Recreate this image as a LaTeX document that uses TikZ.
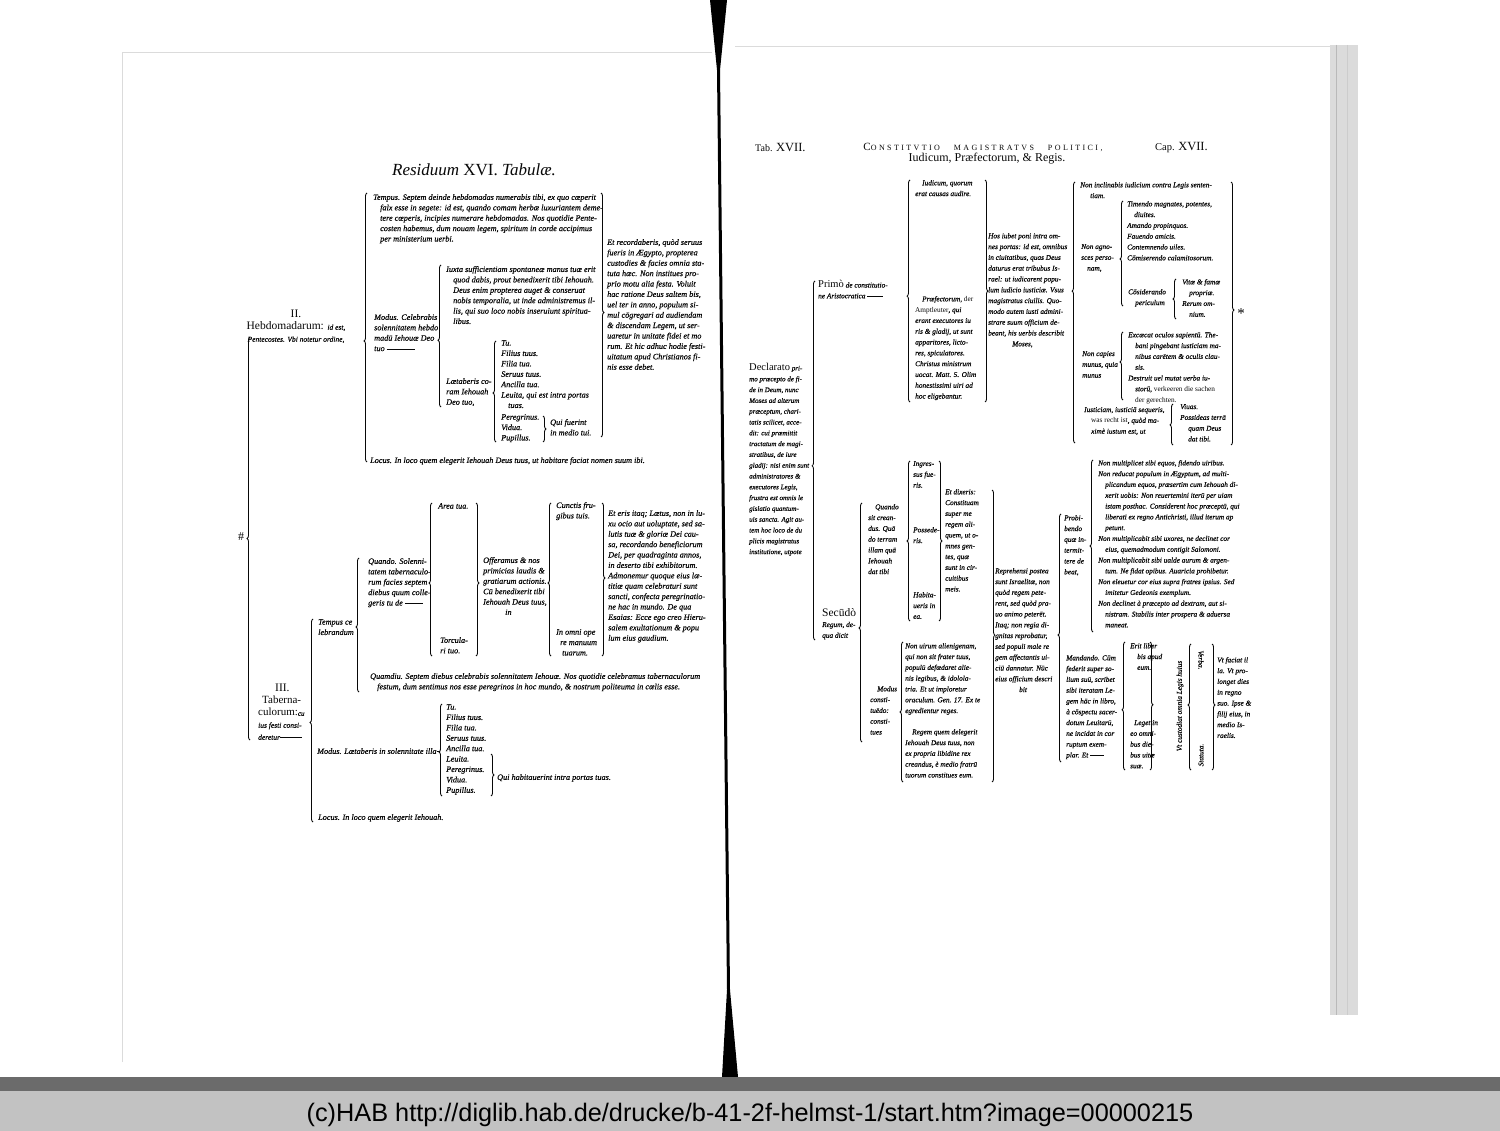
\documentclass[tikz,border=0pt]{standalone}
\usepackage{fontspec}
\setmainfont{Liberation Serif}[ItalicFeatures={FakeBold=0.5}]
\newfontfamily\plainfont{Liberation Serif}
\newfontfamily\footfont{Liberation Sans}
\usetikzlibrary{decorations.pathreplacing}
\definecolor{ink}{gray}{0.03}
\definecolor{band}{gray}{0.76}
\definecolor{strip}{gray}{0.42}
\definecolor{edge}{gray}{0.86}
\newcommand{\hin}{\hspace*{7pt}}
\tikzset{
  lt/.style={anchor=north west,inner sep=0pt,align=left,text=ink,font=\fontsize{8.2}{10.4}\selectfont\itshape},
  rt/.style={lt,font=\fontsize{7.3}{10.8}\selectfont\itshape},
  hd/.style={inner sep=0pt,text=ink,font=\fontsize{10.5}{12}\selectfont},
  brc/.style={draw=ink,line width=0.85pt,decorate,decoration={brace,amplitude=3pt,aspect=#1}},
}
\begin{document}
\begin{tikzpicture}[x=1pt,y=-1pt]
\useasboundingbox (0,0) rectangle (1500,1131);
\fill[white] (0,0) rectangle (1500,1131);
% pages, spine, scanner band
\draw[edge,line width=0.7pt] (122,1062) -- (122,52) -- (712,52);
\draw[edge,line width=0.7pt] (735,46) -- (1330,46);
\fill[edge] (1330,45) rectangle (1358,1015);
\draw[gray!55,line width=0.6pt] (1336,45) -- (1336,1015);
\draw[gray!40,line width=0.6pt] (1347,45) -- (1347,1015);
\fill[black] (710,0) -- (727,0) -- (720,70) -- (730,990) -- (738,1077) -- (722,1077) -- (727,990) -- (717,70) -- cycle;
\fill[strip] (0,1077) rectangle (1500,1091);
\fill[band] (0,1091) rectangle (1500,1131);
\node[inner sep=0pt,font=\footfont\fontsize{25.3}{28}\selectfont] (foot) at (750,1115) {(c)HAB http://diglib.hab.de/drucke/b-41-2f-helmst-1/start.htm?image=00000215};

% left page: Residuum XVI. Tabulae
\node[hd,font=\plainfont\fontsize{17}{18}\selectfont] (title) at (474,170) {{\itshape Residuum} XVI. {\itshape Tabulæ.}};
\node[hd,font=\fontsize{12}{12}\selectfont] (hash) at (241,537) {\#};

\node[hd,align=center,anchor=north] (hebd) at (296,310) {{\fontsize{11.5}{11}\selectfont II.}\\ {\fontsize{11.5}{12}\selectfont Hebdomadarum:} {\fontsize{7.5}{9}\selectfont\itshape id est,}\\ {\fontsize{7.5}{9}\selectfont\itshape Pentecostes. Vbi notetur ordine,}};
\node[lt] (tempus) at (373,194) {Tempus. Septem deinde hebdomadas numerabis tibi, ex quo cœperit\\ \hin falx esse in segete: id est, quando comam herbæ luxuriantem deme-\\ \hin tere cœperis, incipies numerare hebdomadas. Nos quotidie Pente-\\ \hin costen habemus, dum nouam legem, spiritum in corde accipimus\\ \hin per ministerium uerbi.};
\node[lt] (modus) at (374,314) {Modus. Celebrabis\\ solennitatem hebdo\\ madū Iehouæ Deo\\ tuo \rule[2pt]{28pt}{0.5pt}};
\node[lt] (iuxta) at (446,266) {Iuxta sufficientiam spontaneæ manus tuæ erit\\ \hin quod dabis, prout benedixerit tibi Iehouah.\\ \hin Deus enim propterea auget \& conseruat\\ \hin nobis temporalia, ut inde administremus il-\\ \hin lis, qui suo loco nobis inseruiunt spiritua-\\ \hin libus.};
\node[lt] (laet) at (446,378) {Lætaberis co-\\ ram Iehouah\\ Deo tuo,};
\node[lt] (liste) at (501,340) {Tu.\\ Filius tuus.\\ Filia tua.\\ Seruus tuus.\\ Ancilla tua.\\ Leuita, qui est intra portas\\ \hin tuas.};
\node[lt] (peregr) at (501,414) {Peregrinus.\\ Vidua.\\ Pupillus.};
\node[lt] (quifu) at (550,419) {Qui fuerint\\ in medio tui.};
\node[lt] (recor) at (607,239) {Et recordaberis, quòd seruus\\ fueris in Ægypto, propterea\\ custodies \& facies omnia sta-\\ tuta hæc. Non institues pro-\\ prio motu alia festa. Voluit\\ hac ratione Deus saltem bis,\\ uel ter in anno, populum si-\\ mul cōgregari ad audiendam\\ \& discendam Legem, ut ser-\\ uaretur in unitate fidei et mo\\ rum. Et hic adhuc hodie festi-\\ uitatum apud Christianos fi-\\ nis esse debet.};
\node[lt] (locus) at (370,457) {Locus. In loco quem elegerit Iehouah Deus tuus, ut habitare faciat nomen suum ibi.};

\node[hd,align=left,anchor=north west] (tab3) at (258,684) {\hspace*{17pt}{\fontsize{11.5}{11}\selectfont III.}\\ \hspace*{4pt}{\fontsize{11}{11}\selectfont Taberna-}\\ {\fontsize{11}{11}\selectfont culorum:}{\fontsize{7}{8}\selectfont\itshape cu}\\ {\fontsize{7.5}{8}\selectfont\itshape ius festi consi-}\\ {\fontsize{7.5}{8}\selectfont\itshape deretur}\rule[2pt]{22pt}{0.5pt}};
\node[lt] (tempc) at (318,619) {Tempus ce\\ lebrandum};
\node[lt] (quand) at (368,558) {Quando. Solenni-\\ tatem tabernaculo-\\ rum facies septem\\ diebus quum colle-\\ geris tu de \rule[2pt]{18pt}{0.5pt}};
\node[lt] (area) at (438,503) {Area tua.};
\node[lt] (torc) at (440,637) {Torcula-\\ ri tuo.};
\node[lt] (offer) at (483,557) {Offeramus \& nos\\ primicias laudis \&\\ gratiarum actionis.\\ Cū benedixerit tibi\\ Iehouah Deus tuus,\\ \hspace*{22pt}in};
\node[lt] (cunct) at (556,502) {Cunctis fru-\\ gibus tuis.};
\node[lt] (omni) at (556,629) {In omni ope\\ \hspace*{4pt}re manuum\\ \hspace*{6pt}tuarum.};
\node[lt] (eris) at (608,510) {Et eris itaq; Lætus, non in lu-\\ xu ocio aut uoluptate, sed sa-\\ lutis tuæ \& gloriæ Dei cau-\\ sa, recordando beneficiorum\\ Dei, per quadraginta annos,\\ in deserto tibi exhibitorum.\\ Admonemur quoque eius læ-\\ titiæ quam celebraturi sunt\\ sancti, confecta peregrinatio-\\ ne hac in mundo. De qua\\ Esaias: Ecce ego creo Hieru-\\ salem exultationum \& popu\\ lum eius gaudium.};
\node[lt] (quamd) at (370,673) {Quamdiu. Septem diebus celebrabis solennitatem Iehouæ. Nos quotidie celebramus tabernaculorum\\ \hin festum, dum sentimus nos esse peregrinos in hoc mundo, \& nostrum politeuma in cœlis esse.};
\node[lt] (modus2) at (317,748) {Modus. Lætaberis in solennitate illa\rule[2pt]{3pt}{0.5pt}};
\node[lt] (liste2) at (446,704) {Tu.\\ Filius tuus.\\ Filia tua.\\ Seruus tuus.\\ Ancilla tua.\\ Leuita.\\ Peregrinus.\\ Vidua.\\ Pupillus.};
\node[lt] (quihab) at (497,774) {Qui habitauerint intra portas tuas.};
\node[lt] (locus2) at (318,814) {Locus. In loco quem elegerit Iehouah.};

% left page braces
\draw[brc=0.5] (250,740) -- (250,337);
\draw[brc=0.45] (367,462) -- (367,193);
\draw[brc=0.47] (441,407) -- (441,265);
\draw[brc=0.485] (496,442) -- (496,341);
\draw[brc=0.5] (543,416) -- (543,442);
\draw[brc=0.49] (601,193) -- (601,437);
\draw[brc=0.49] (313,822) -- (313,619);
\draw[brc=0.485] (359,692) -- (359,558);
\draw[brc=0.477] (432,656) -- (432,503);
\draw[brc=0.523] (476,503) -- (476,656);
\draw[brc=0.477] (551,656) -- (551,503);
\draw[brc=0.49] (602,503) -- (602,656);
\draw[brc=0.478] (442,796) -- (442,704);
\draw[brc=0.5] (491,754) -- (491,796);

% right page: Tab. XVII
\node[hd,anchor=west] (tab) at (755,148) {{\fontsize{10}{10}\selectfont Tab.} {\fontsize{12.5}{12}\selectfont XVII.}};
\node[hd] (const) at (983,147) {{\addfontfeatures{LetterSpace=30}{\fontsize{11}{11}\selectfont C}{\fontsize{8}{11}\selectfont ONSTITVTIO\hspace{14pt}MAGISTRATVS\hspace{14pt}POLITICI,}}};
\node[hd,font=\fontsize{12}{12}\selectfont] (iudreg) at (987,159) {Iudicum, Præfectorum, \& Regis.};
\node[hd,anchor=west] (cap) at (1155,148) {{\fontsize{10.5}{10}\selectfont Cap.} {\fontsize{12.5}{12}\selectfont XVII.}};

\node[rt,font=\fontsize{7}{10.8}\selectfont\itshape] (decl) at (749,363) {{\upshape\fontsize{10.5}{10}\selectfont Declarato} pri-\\ mo præcepto de fi-\\ de in Deum, nunc\\ Moses ad alterum\\ præceptum, chari-\\ tatis scilicet, acce-\\ dit: cui præmittit\\ tractatum de magi-\\ stratibus, de iure\\ gladij: nisi enim sunt\\ administratores \&\\ executores Legis,\\ frustra est omnis le\\ gislatio quantum-\\ uis sancta. Agit au-\\ tem hoc loco de du\\ plicis magistratus\\ institutione, utpote};
\node[rt] (primo) at (818,280) {{\upshape\fontsize{10.5}{10}\selectfont Primò} de constitutio-\\ ne Aristocratica \rule[2pt]{16pt}{0.5pt}};
\node[rt] (iudic) at (915,180) {\hin Iudicum, quorum\\ erat causas audire.};
\node[rt] (praef) at (915,296) {\hin Præfectorum, {\upshape der}\\ {\upshape Amptleuter}, qui\\ erant executores iu\\ ris \& gladij, ut sunt\\ apparitores, licto-\\ res, spiculatores.\\ Christus ministrum\\ uocat. Matt. 5. Olim\\ honestissimi uiri ad\\ hoc eligebantur.};
\node[rt] (hos) at (988,233) {Hos iubet poni intra om-\\ nes portas: id est, omnibus\\ in ciuitatibus, quas Deus\\ daturus erat tribubus Is-\\ rael: ut iudicarent popu-\\ lum iudicio iusticiæ. Vsus\\ magistratus ciuilis. Quo-\\ modo autem iusti admini-\\ strare suum officium de-\\ beant, his uerbis describit\\ \hspace*{24pt}Moses,};
\node[rt] (noninc) at (1080,182) {Non inclinabis iudicium contra Legis senten-\\ \hspace*{10pt}tiam.};
\node[rt] (nonagn) at (1081,244) {Non agno-\\ sces perso-\\ \hspace*{6pt}nam,};
\node[rt] (timen) at (1127,201) {Timendo magnates, potentes,\\ \hin diuites.\\ Amando propinquos.\\ Fauendo amicis.\\ Contemnendo uiles.\\ Cōmiserendo calamitosorum.};
\node[rt] (consid) at (1128,289) {Cōsiderando\\ \hin periculum};
\node[rt] (uitae) at (1182,279) {Vitæ \& famæ\\ \hin propriæ.\\ Rerum om-\\ \hin nium.};
\node[rt] (capies) at (1082,351) {Non capies\\ munus, quia\\ munus};
\node[rt] (excae) at (1128,332) {Excæcat oculos sapientū. The-\\ \hin bani pingebant iusticiam ma-\\ \hin nibus carētem \& oculis clau-\\ \hin sis.\\ Destruit uel mutat uerba iu-\\ \hin storū, {\upshape verkeeren die sachen}\\ \hin {\upshape der gerechten.}};
\node[rt] (iustic) at (1084,407) {Iusticiam, iusticiā sequeris,\\ \hin {\upshape was recht ist}, quòd ma-\\ \hin ximè iustum est, ut};
\node[rt] (uiuas) at (1180,404) {Viuas.\\ Possideas terrā\\ \hspace*{8pt}quam Deus\\ \hspace*{8pt}dat tibi.};
\node[hd,font=\fontsize{15}{15}\selectfont] (star) at (1241,314) {*};

\node[rt] (secun) at (822,608) {{\upshape\fontsize{11.5}{11}\selectfont Secūdò}\\ Regum, de-\\ qua dicit};
\node[rt] (quand2) at (868,504) {\hin Quando\\ sit crean-\\ dus. Quā\\ do terram\\ illam quā\\ Iehouah\\ dat tibi};
\node[rt] (ingr) at (913,461) {Ingres-\\ sus fue-\\ ris.};
\node[rt] (poss) at (913,527) {Possede-\\ ris.};
\node[rt] (habit) at (913,592) {Habita-\\ ueris in\\ ea.};
\node[rt] (dixer) at (945,489) {Et dixeris:\\ Constituam\\ super me\\ regem ali-\\ quem, ut o-\\ mnes gen-\\ tes, quæ\\ sunt in cir-\\ cuitibus\\ meis.};
\node[rt] (modus3) at (870,686) {\hin Modus\\ consti-\\ tuēdo:\\ consti-\\ tues};
\node[rt] (nonuir) at (905,643) {Non uirum alienigenam,\\ qui non sit frater tuus,\\ populū defœdaret alie-\\ nis legibus, \& idolola-\\ tria. Et ut imploretur\\ oraculum. Gen. 17. Ex te\\ egredientur reges.};
\node[rt] (regem) at (905,729) {\hin Regem quem delegerit\\ Iehouah Deus tuus, non\\ ex propria libidine rex\\ creandus, è medio fratrū\\ tuorum constitues eum.};
\node[rt] (repre) at (995,568) {Reprehensi postea\\ sunt Israelitæ, non\\ quòd regem pete-\\ rent, sed quòd pra-\\ uo animo peterēt.\\ Itaq; non regia di-\\ gnitas reprobatur,\\ sed populi male re\\ gem affectantis ui-\\ ciū dannatur. Nūc\\ eius officium descri\\ \hspace*{24pt}bit};
\node[rt] (probi) at (1064,515) {Probi-\\ bendo\\ quæ in-\\ termit-\\ tere de\\ beat,};
\node[rt] (nonmu) at (1098,460) {Non multiplicet sibi equos, fidendo uiribus.\\ Non reducat populum in Ægyptum, ad multi-\\ \hin plicandum equos, præsertim cum Iehouah di-\\ \hin xerit uobis: Non reuertemini iterū per uiam\\ \hin istam posthac. Considerent hoc præceptū, qui\\ \hin liberati ex regno Antichristi, illud iterum ap\\ \hin petunt.\\ Non multiplicabit sibi uxores, ne declinet cor\\ \hin eius, quemadmodum contigit Salomoni.\\ Non multiplicabit sibi ualde aurum \& argen-\\ \hin tum. Ne fidat opibus. Auaricia prohibetur.\\ Non eleuetur cor eius supra fratres ipsius. Sed\\ \hin imitetur Gedeonis exemplum.\\ Non declinet à præcepto ad dextram, aut si-\\ \hin nistram. Stabilis inter prospera \& aduersa\\ \hin maneat.};
\node[rt] (manda) at (1066,655) {Mandando. Cūm\\ federit super so-\\ lium suū, scribet\\ sibi iteratam Le-\\ gem hāc in libro,\\ à cōspectu sacer-\\ dotum Leuitarū,\\ ne incidat in cor\\ ruptum exem-\\ plar. Et \rule[2pt]{14pt}{0.5pt}};
\node[rt] (erit) at (1130,643) {Erit liber\\ \hin bis apud\\ \hin eum.};
\node[rt] (leget) at (1130,720) {\hspace*{4pt}Leget in\\ eo omni-\\ bus die-\\ bus uitæ\\ suæ.};
\node[rt,anchor=center,rotate=90] (custo) at (1180,706) {Vt custodiat omnia Legis huius};
\node[rt,anchor=center,rotate=-90] (verba) at (1201,660) {Verba.};
\node[rt,anchor=center,rotate=90] (statu) at (1201,755) {Statuta.};
\node[rt] (facit) at (1217,657) {Vt faciat il\\ la. Vt pro-\\ longet dies\\ in regno\\ suo. Ipse \&\\ filij eius, in\\ medio Is-\\ raelis.};

% right page braces
\draw[brc=0.485] (815,640) -- (815,281);
\draw[brc=0.477] (910,402) -- (910,180);
\draw[brc=0.5] (985,180) -- (985,402);
\draw[brc=0.582] (1075,443) -- (1075,182);
\draw[brc=0.448] (1123,306) -- (1123,201);
\draw[brc=0.5] (1176,319) -- (1176,279);
\draw[brc=0.56] (1123,400) -- (1123,332);
\draw[brc=0.49] (1173,445) -- (1173,404);
\draw[brc=0.487] (1231,182) -- (1231,445);
\draw[brc=0.477] (862,742) -- (862,503);
\draw[brc=0.5] (910,621) -- (910,461);
\draw[brc=0.5] (939,461) -- (939,621);
\draw[brc=0.5] (903,782) -- (903,642);
\draw[brc=0.497] (992,490) -- (992,782);
\draw[brc=0.512] (1061,762) -- (1061,514);
\draw[brc=0.5] (1093,632) -- (1093,460);
\draw[brc=0.47] (1125,770) -- (1125,642);
\draw[brc=0.49] (1150,642) -- (1150,770);
\draw[brc=0.516] (1191,770) -- (1191,644);
\draw[brc=0.484] (1212,644) -- (1212,770);
\end{tikzpicture}
\end{document}
